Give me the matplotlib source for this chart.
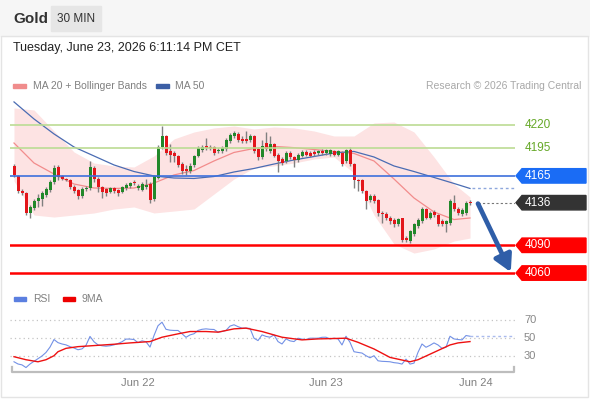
import numpy as np
import matplotlib.pyplot as plt
import matplotlib.transforms as mtransforms
from matplotlib.patches import Rectangle, Polygon

plt.rcParams['font.family'] = ['Liberation Sans', 'DejaVu Sans']

title = "Gold"
period = "30 MIN"
timestamp = "Tuesday, June 23, 2026 6:11:14 PM CET"
credit = "Research \u00a9 2026 Trading Central"

# 30 min candles
opens = [4176, 4165, 4149, 4147, 4125, 4130, 4138, 4140, 4144, 4150,
         4158, 4175, 4165, 4162, 4161, 4153, 4150, 4143, 4151, 4152,
         4174, 4162, 4153, 4151, 4148, 4152, 4150, 4148, 4152, 4154,
         4158, 4152, 4150, 4153, 4156, 4140, 4163, 4196, 4208, 4192,
         4190, 4187, 4178, 4172, 4170, 4177, 4187, 4193, 4197, 4196,
         4196, 4192, 4192, 4194, 4203, 4208, 4210, 4205, 4205, 4204,
         4208, 4194, 4185, 4201, 4192, 4199, 4188, 4183, 4181, 4190,
         4185, 4182, 4187, 4191, 4190, 4191, 4190, 4192, 4190, 4189,
         4192, 4188, 4190, 4181, 4193, 4178, 4160, 4160, 4149, 4139,
         4143, 4139, 4125, 4124, 4120, 4117, 4113, 4119, 4098, 4095,
         4102, 4111, 4116, 4129, 4120, 4126, 4123, 4116, 4113, 4114,
         4136, 4129, 4124, 4125, 4137]
closes = [4166, 4149, 4147, 4125, 4131, 4138, 4141, 4147, 4151, 4158,
          4174, 4164, 4162, 4161, 4153, 4149, 4143, 4151, 4152, 4175,
          4162, 4153, 4148, 4147, 4152, 4149, 4147, 4153, 4155, 4157,
          4157, 4154, 4156, 4155, 4139, 4165, 4196, 4208, 4190, 4188,
          4187, 4177, 4170, 4170, 4176, 4187, 4195, 4196, 4195, 4195,
          4190, 4193, 4195, 4204, 4209, 4211, 4204, 4203, 4203, 4208,
          4192, 4185, 4197, 4194, 4199, 4187, 4181, 4179, 4190, 4185,
          4182, 4188, 4191, 4188, 4187, 4189, 4192, 4190, 4193, 4193,
          4188, 4192, 4178, 4193, 4178, 4160, 4159, 4149, 4138, 4143,
          4138, 4125, 4124, 4120, 4116, 4113, 4118, 4096, 4096, 4105,
          4113, 4117, 4129, 4120, 4125, 4123, 4113, 4113, 4116, 4138,
          4129, 4125, 4128, 4136, 4136]
highs = [4178, 4166, 4151, 4148, 4133, 4140, 4145, 4149, 4153, 4160,
         4177, 4177, 4166, 4163, 4162, 4155, 4151, 4153, 4154, 4181,
         4176, 4164, 4154, 4152, 4153, 4153, 4151, 4154, 4157, 4158,
         4160, 4156, 4158, 4162, 4158, 4166, 4198, 4219, 4209, 4199,
         4192, 4188, 4180, 4177, 4179, 4188, 4197, 4198, 4206, 4198,
         4197, 4195, 4197, 4206, 4211, 4213, 4212, 4208, 4214, 4210,
         4209, 4196, 4204, 4212, 4208, 4201, 4190, 4185, 4192, 4192,
         4187, 4190, 4193, 4193, 4192, 4193, 4193, 4194, 4194, 4194,
         4193, 4193, 4192, 4194, 4196, 4179, 4162, 4162, 4150, 4145,
         4145, 4140, 4127, 4126, 4122, 4119, 4120, 4120, 4100, 4107,
         4114, 4119, 4131, 4130, 4127, 4128, 4124, 4118, 4117, 4140,
         4144, 4131, 4130, 4138, 4139]
lows = [4164, 4146, 4144, 4123, 4120, 4128, 4131, 4132, 4142, 4148,
        4156, 4160, 4160, 4159, 4151, 4147, 4140, 4141, 4149, 4150,
        4158, 4148, 4141, 4143, 4146, 4147, 4143, 4147, 4150, 4152,
        4155, 4150, 4149, 4151, 4136, 4138, 4162, 4194, 4188, 4180,
        4180, 4175, 4167, 4166, 4168, 4175, 4185, 4191, 4193, 4193,
        4188, 4190, 4190, 4192, 4201, 4206, 4202, 4200, 4201, 4202,
        4190, 4182, 4183, 4192, 4190, 4185, 4169, 4177, 4179, 4183,
        4175, 4180, 4185, 4186, 4185, 4187, 4188, 4188, 4188, 4187,
        4186, 4186, 4176, 4179, 4176, 4152, 4149, 4147, 4129, 4137,
        4136, 4122, 4114, 4117, 4113, 4110, 4111, 4094, 4094, 4093,
        4100, 4109, 4114, 4118, 4118, 4121, 4111, 4111, 4104, 4112,
        4127, 4123, 4122, 4123, 4134]

# moving averages / bands, sampled every 5 candles
band_idx = [0, 5, 10, 15, 20, 25, 30, 35, 40, 45, 50, 55,
            60, 65, 70, 75, 80, 85, 90, 95, 100, 105, 110, 114]
ma20 = [4200.5, 4178.9, 4167.0, 4156.2, 4151.9, 4151.4, 4151.9, 4157.3,
        4166.0, 4170.8, 4181.1, 4190.3, 4194.6, 4196.8, 4195.5, 4193.5,
        4191.4, 4189.2, 4181.1, 4161.6, 4141.1, 4126.0, 4117.8, 4119.5]
bb_upper = [4238.4, 4236.2, 4213.5, 4190.8, 4178.9, 4175.7, 4174.6, 4186.5,
            4204.9, 4212.4, 4216.8, 4218.9, 4215.7, 4217.8, 4216.8, 4213.5,
            4208.1, 4208.1, 4222.2, 4223.2, 4212.4, 4185.4, 4156.2, 4142.2]
bb_lower = [4159.5, 4122.7, 4120.5, 4122.7, 4124.9, 4129.2, 4131.4, 4124.9,
            4127.0, 4129.2, 4145.4, 4161.6, 4173.5, 4175.7, 4178.9, 4183.2,
            4185.4, 4168.1, 4122.7, 4091.4, 4081.6, 4086.0, 4094.6, 4097.8]
ma50 = [4244.9, 4226.5, 4210.3, 4196.2, 4186.5, 4176.8, 4169.7, 4164.9,
        4162.7, 4162.2, 4164.3, 4169.2, 4173.0, 4177.8, 4182.2, 4185.9,
        4189.7, 4191.4, 4185.4, 4175.7, 4169.7, 4163.3, 4156.8, 4151.4]

rsi = [23.5, 21, 20, 17, 21, 24, 27, 30, 34, 40,
       48.5, 45, 43.5, 42.5, 40.5, 39, 37, 38, 42, 52,
       46, 42.5, 41.5, 41, 41.5, 42.5, 44, 46, 49, 49,
       48.5, 45, 47, 46, 40, 53, 64, 68, 60, 59,
       58.7, 58.7, 55, 51, 53.7, 55, 58.7, 60, 60.5, 60,
       59.8, 56.8, 57.5, 58.7, 63.6, 65.1, 63, 61.3, 61.3, 61,
       50, 47.3, 53.7, 52, 51.1, 53.7, 46.2, 43.5, 49.2, 47,
       46.2, 50, 49, 48.5, 50, 50, 50, 51, 51.1, 49.2,
       50, 49.2, 42.4, 52.2, 45.4, 34.8, 34, 33.3, 30.3, 28,
       30.3, 24.6, 24, 23.8, 23.5, 22.5, 22, 20.9, 26.5, 20.9,
       22, 34.1, 43.5, 39.8, 42, 44.7, 42.4, 38.6, 39.8, 52.2,
       49.2, 48.5, 48.1, 53, 52.2]
rsi_ma_idx = [0, 3, 6, 8, 10, 11, 13, 16, 20, 25, 29, 34, 37, 41, 44, 48, 51,
              55, 58, 62, 67, 72, 76, 83, 86, 90, 94, 99, 101, 105, 109, 111, 114]
rsi_ma = [29.2, 25.8, 23.5, 25.8, 30.3, 34.8, 38.6, 40.5, 41.7, 43.2, 44.7,
          46.2, 51.1, 54.9, 57.5, 57.5, 56.8, 60.5, 61.3, 57.5, 51.1, 48.1,
          49.2, 50, 45.4, 37.9, 28.4, 23.5, 25.8, 34.1, 42.4, 44.7, 46.2]

res_levels = [4220, 4195]
pivot = 4165
sup_levels = [4090, 4060]
date_ticks = [31, 78, 115.5]
date_labels = ["Jun 22", "Jun 23", "Jun 24"]
rsi_grid = [30, 50, 70]

W, H = 590, 400


def fx(px):
    return px / W


def fy(py):
    return 1 - py / H


fig = plt.figure(figsize=(W / 100, H / 100), dpi=100)

# header
fig.patches.append(Rectangle((0, fy(36)), 1, 36 / H, transform=fig.transFigure,
                             color="#f6f6f6", zorder=0))
fig.patches.append(Rectangle((fx(51), fy(31)), 50 / W, 25 / H, transform=fig.transFigure,
                             color="#e6e6e6", zorder=1))
fig.patches.append(Rectangle((fx(0.5), fy(397)), 587.5 / W, 361 / H, transform=fig.transFigure,
                             fill=False, edgecolor="#e4e4e4", lw=1, zorder=1))
fig.text(fx(13), fy(19), title, fontsize=11, fontweight="bold", color="#333333", va="center")
fig.text(fx(57), fy(19), period, fontsize=8.5, color="#333333", va="center")
fig.text(fx(13), fy(48), timestamp, fontsize=9, color="#222222", va="center")

# legend of the price panel
fig.patches.append(Rectangle((fx(13), fy(88)), 13 / W, 4 / H, transform=fig.transFigure,
                             color="#f08c8c"))
fig.text(fx(33), fy(86), "MA 20 + Bollinger Bands", fontsize=7.5, color="#808080", va="center")
fig.patches.append(Rectangle((fx(156), fy(88)), 13 / W, 4 / H, transform=fig.transFigure,
                             color="#3c5fa5"))
fig.text(fx(175), fy(86), "MA 50", fontsize=7.5, color="#808080", va="center")
fig.text(fx(581), fy(86), credit, fontsize=7.5, color="#a8a8a8", va="center", ha="right")

# price panel
ax = fig.add_axes([fx(10), fy(286), 505 / W, 190 / H])
ax.set_xlim(-1, 125.25)
ax.set_ylim(4046, 4251.3)
ax.axis("off")

ax.fill_between(band_idx, bb_lower, bb_upper, color="#fde3e3", lw=0, zorder=1)
ax.plot(band_idx, ma20, color="#f28c8c", lw=0.9, zorder=3)
ax.plot(band_idx, ma50, color="#4a6cb3", lw=0.9, zorder=3)

x = np.arange(len(closes))
o = np.array(opens)
c = np.array(closes)
up = c >= o
ax.vlines(x, lows, highs, color="#808080", lw=1, zorder=4)
ax.bar(x, np.maximum(np.abs(c - o), 0.8), bottom=np.minimum(o, c), width=0.75,
       color=np.where(up, "#22882a", "#e3161b"), lw=0, zorder=5)

last = len(closes) - 1
ax.plot([last + 0.5, 125.25], [ma50[-1], ma50[-1]], color="#8ea7dc", lw=1,
        ls=(0, (2, 2)), zorder=3)
ax.plot([last + 2, 125.25], [closes[-1], closes[-1]], color="#777777", lw=0.8,
        ls=(0, (2, 2)), zorder=3)

for lv in res_levels:
    ax.axhline(lv, color="#bcdc94", lw=1.2, zorder=6)
ax.axhline(pivot, color="#3d70dc", lw=1.2, zorder=6)
for lv in sup_levels:
    ax.axhline(lv, color="#ff0000", lw=1.8, zorder=6)

tag_tf = mtransforms.blended_transform_factory(fig.transFigure, ax.transData)


def tag(level, color, text_color="white"):
    h = 7.8
    pts = [(fx(516), level), (fx(522), level + h), (fx(586), level + h),
           (fx(586), level - h), (fx(522), level - h)]
    ax.add_patch(Polygon(pts, closed=True, transform=tag_tf, color=color,
                         clip_on=False, zorder=7))
    ax.text(fx(525), level, f"{level:g}", transform=tag_tf, color=text_color,
            fontsize=8.5, va="center", ha="left", zorder=8, clip_on=False)


for lv in res_levels:
    ax.text(fx(525), lv, f"{lv:g}", transform=tag_tf, color="#66a828",
            fontsize=8.5, va="center", ha="left", clip_on=False)
tag(pivot, "#1a6cf5")
tag(closes[-1], "#333333")
for lv in sup_levels:
    tag(lv, "#ff0000")

ax.annotate("", xy=(last + 10.2, sup_levels[-1] + 1), xytext=(last + 2, closes[-1] - 1),
            arrowprops=dict(arrowstyle="-|>,head_length=1.0,head_width=0.55",
                            color="#2f5ea8", lw=3.4, shrinkA=0, shrinkB=0),
            zorder=9)

# RSI legend
fig.patches.append(Rectangle((fx(14), fy(301)), 12 / W, 4 / H, transform=fig.transFigure,
                             color="#5b7fe0"))
fig.text(fx(33), fy(299), "RSI", fontsize=7.5, color="#808080", va="center")
fig.patches.append(Rectangle((fx(63), fy(301)), 12 / W, 4 / H, transform=fig.transFigure,
                             color="#ee0000"))
fig.text(fx(82), fy(299), "9MA", fontsize=7.5, color="#808080", va="center")

# RSI panel
rax = fig.add_axes([fx(10), fy(372), 505 / W, 62 / H])
rax.set_xlim(-1, 125.25)
rax.set_ylim(12.0, 81.7)
for s in rax.spines.values():
    s.set_visible(False)
rax.set_yticks([])
rax.set_xticks(date_ticks, date_labels)
rax.tick_params(axis="x", length=0, pad=4.5, labelsize=8, labelcolor="#808080")

for g in rsi_grid:
    rax.axhline(g, color="#c4c4c4", lw=0.9, ls=(0, (1, 2.5)), zorder=1)
    rax.text(fx(524), g, f"{g}",
             transform=mtransforms.blended_transform_factory(fig.transFigure, rax.transData),
             fontsize=8, color="#888888", va="center", ha="left")

rax.plot(x, rsi, color="#7391e6", lw=0.8, zorder=3)
rax.plot(rsi_ma_idx, rsi_ma, color="#ee1111", lw=1.0, zorder=4)
rax.plot([last, 125.25], [rsi[-1], rsi[-1]], color="#aabbee", lw=1, ls=(0, (2, 2)), zorder=2)
rax.plot([-0.5, -0.5, 125, 125], [17.5, 12.0, 12.0, 17.5], color="#bdbdbd", lw=1.6,
         clip_on=False, zorder=2)

fig.savefig("out.png", dpi=100)
plt.close(fig)
